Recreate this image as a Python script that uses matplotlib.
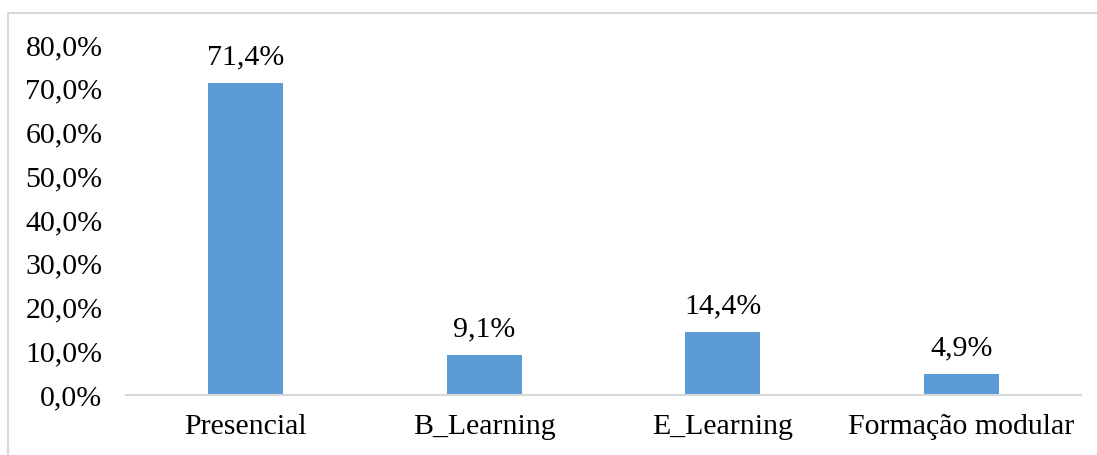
import numpy as np
import matplotlib.pyplot as plt
from matplotlib.patches import Rectangle
from matplotlib.ticker import FuncFormatter

plt.rcParams['font.family'] = ['Liberation Serif', 'DejaVu Serif']

# data
categorias = ['Presencial', 'B_Learning', 'E_Learning', 'Formação modular']
percentagens = [71.4, 9.1, 14.4, 4.9]
yticks = [0, 10, 20, 30, 40, 50, 60, 70, 80]

fig = plt.figure(figsize=(10.97, 4.55), dpi=100)
ax = fig.add_axes([0.1149, 0.1319, 0.8705, 0.7691])

x = np.arange(len(categorias))
bars = ax.bar(x, percentagens, width=0.314, color='#5B9BD5')

for b, v in zip(bars, percentagens):
    ax.annotate(('%.1f%%' % v).replace('.', ','),
                (b.get_x() + b.get_width() / 2, v),
                xytext=(0, 9), textcoords='offset points',
                ha='center', va='bottom', fontsize=21.5, color='#000000')

ax.set_xlim(-0.5, len(categorias) - 0.5)
ax.set_ylim(0, 80)
ax.set_yticks(yticks)
ax.yaxis.set_major_formatter(FuncFormatter(lambda v, p: ('%.1f%%' % v).replace('.', ',')))
ax.set_xticks(x)
ax.set_xticklabels(categorias)
ax.tick_params(axis='both', length=0, labelsize=21.5, colors='#000000')
ax.tick_params(axis='y', pad=17)
ax.tick_params(axis='x', pad=14)

for s in ['top', 'right', 'left']:
    ax.spines[s].set_visible(False)
ax.spines['bottom'].set_color('#D9D9D9')
ax.spines['bottom'].set_linewidth(1.5)

# chart area border
fig.patches.append(Rectangle((8 / 1097, -0.1), 1.1, 1.1 - 13 / 455,
                             transform=fig.transFigure, fill=False,
                             edgecolor='#D9D9D9', linewidth=1.5))

fig.savefig('out.png', dpi=100)
